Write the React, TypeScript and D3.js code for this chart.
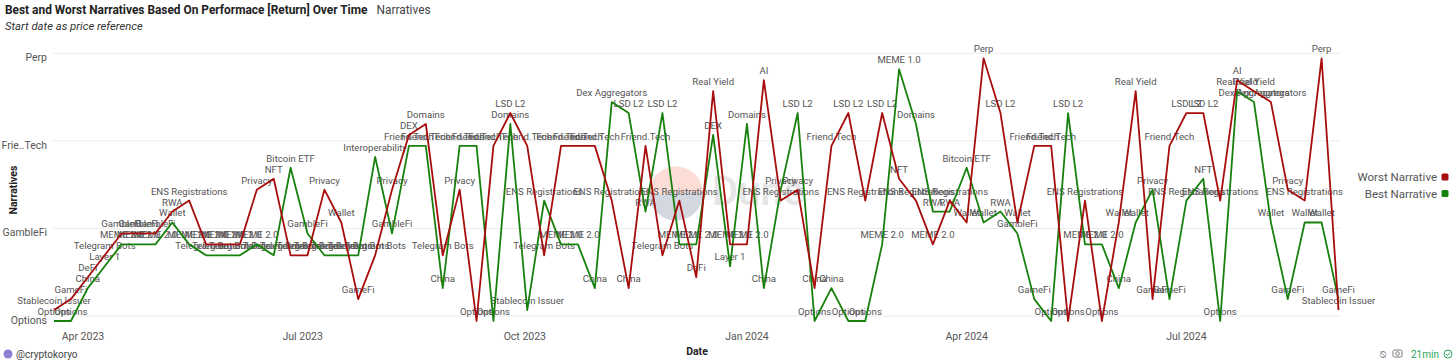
import React, { useEffect } from "react";
import * as d3 from "d3";

// y categories, bottom to top
const categories = [
  "Options", "Stablecoin Issuer", "GameFi", "China", "DeFi", "Layer 1", "Telegram Bots",
  "MEME 2.0", "GambleFi", "Wallet", "RWA", "ENS Registrations", "Privacy", "NFT",
  "Bitcoin ETF", "Interoperability", "Friend.Tech", "DEX", "Domains", "LSD L2",
  "Dex Aggregators", "Real Yield", "AI", "MEME 1.0", "Perp",
];
const yTickValues = ["Options", "GambleFi", "Friend.Tech", "Perp"];

const firstWeek = new Date(2023, 2, 20);
const lastWeek = new Date(2024, 8, 2);

const worstNarrative = [
  "Stablecoin Issuer", "GameFi", "DeFi", "Telegram Bots", "GambleFi", "GambleFi", "GambleFi", "RWA",
  "ENS Registrations", "MEME 2.0", "MEME 2.0", "MEME 2.0", "Privacy", "NFT", "Telegram Bots", "Telegram Bots",
  "Privacy", "Wallet", "GameFi", "Telegram Bots", "Privacy", "DEX", "Domains", "Telegram Bots",
  "Privacy", "Options", "Friend.Tech", "LSD L2", "Friend.Tech", "Telegram Bots", "Friend.Tech", "Friend.Tech",
  "Friend.Tech", "ENS Registrations", "China", "Friend.Tech", "Telegram Bots", "ENS Registrations", "DeFi", "Real Yield",
  "MEME 2.0", "MEME 2.0", "AI", "ENS Registrations", "Privacy", "China", "Friend.Tech", "LSD L2",
  "ENS Registrations", "LSD L2", "NFT", "ENS Registrations", "MEME 2.0", "ENS Registrations", "Wallet", "Perp",
  "LSD L2", "Wallet", "Friend.Tech", "Friend.Tech", "Options", "ENS Registrations", "Options", "Wallet",
  "Real Yield", "GameFi", "Friend.Tech", "LSD L2", "LSD L2", "ENS Registrations", "AI", "Real Yield",
  "Dex Aggregators", "Privacy", "ENS Registrations", "Perp", "Stablecoin Issuer",
];

const bestNarrative = [
  "Options", "Options", "China", "Layer 1", "MEME 2.0", "MEME 2.0", "MEME 2.0", "Wallet",
  "MEME 2.0", "Telegram Bots", "Telegram Bots", "Telegram Bots", "MEME 2.0", "Telegram Bots", "Bitcoin ETF", "GambleFi",
  "Telegram Bots", "Telegram Bots", "Telegram Bots", "Interoperability", "GambleFi", "Friend.Tech", "Friend.Tech", "China",
  "Friend.Tech", "Friend.Tech", "Options", "Domains", "Stablecoin Issuer", "ENS Registrations", "MEME 2.0", "MEME 2.0",
  "China", "Dex Aggregators", "LSD L2", "RWA", "LSD L2", "MEME 2.0", "MEME 2.0", "DEX",
  "Layer 1", "Domains", "China", "Privacy", "LSD L2", "Options", "China", "Options",
  "Options", "MEME 2.0", "MEME 1.0", "Domains", "RWA", "RWA", "Bitcoin ETF", "Wallet",
  "RWA", "GambleFi", "GameFi", "Options", "LSD L2", "MEME 2.0", "MEME 2.0", "China",
  "Wallet", "Privacy", "GameFi", "ENS Registrations", "NFT", "Options", "Real Yield", "Dex Aggregators",
  "Wallet", "GameFi", "Wallet", "Wallet", "GameFi",
];

const RED = "#a80d0d";
const GREEN = "#18800c";
const FONT = "Roboto, 'Noto Sans', sans-serif";

const truncate = (s: string) => (s.length > 10 ? s.slice(0, 4) + ".." + s.slice(-4) : s);

export default function App() {
  useEffect(() => {
    document.body.style.margin = "0";
  }, []);

  const width = 1456;
  const height = 364;

  const weeks = d3.timeMonday.range(firstWeek, d3.timeDay.offset(lastWeek, 1));
  const x = d3.scaleTime().domain([firstWeek, lastWeek]).range([54, 1338.5]);
  const y = d3.scalePoint<string>().domain(categories).range([321, 58.3]);

  const xTicks = d3.timeMonth.every(3)!.range(new Date(2023, 3, 1), new Date(2024, 7, 1));
  const fmt = d3.timeFormat("%b %Y");

  const series = [
    { name: "Best Narrative", color: GREEN, values: bestNarrative },
    { name: "Worst Narrative", color: RED, values: worstNarrative },
  ];

  const line = d3
    .line<string>()
    .x((_, i) => x(weeks[i]))
    .y((d) => y(d)!);

  return (
    <svg width={width} height={height} style={{ display: "block", background: "#fff", fontFamily: FONT }}>
      {/* title */}
      <text x={5} y={14} fontSize={11.9} fontWeight={700} fill="#222">
        Best and Worst Narratives Based On Performace [Return] Over Time
        <tspan dx={9} fontWeight={400} fill="#444">Narratives</tspan>
      </text>
      <text x={5} y={30} fontSize={11.3} fontStyle="italic" fill="#333">
        Start date as price reference
      </text>

      {/* grid + y ticks */}
      {yTickValues.map((c) => (
        <g key={c}>
          <line x1={53} x2={1340} y1={y(c)! - 5} y2={y(c)! - 5} stroke="#ececec" />
          <text x={47} y={y(c)! + 3} textAnchor="end" fontSize={10.5} fill="#555">
            {truncate(c)}
          </text>
        </g>
      ))}

      {/* x ticks */}
      {xTicks.map((d) => (
        <text key={+d} x={x(d)} y={340} textAnchor="middle" fontSize={10.5} fill="#555">
          {fmt(d)}
        </text>
      ))}

      {/* watermark */}
      <g opacity={0.2}>
        <path d="M649,195 A27,27 0 0 1 703,192 Z" fill="#f4603e" />
        <path d="M649,195 L703,192 A27,27 0 0 1 649,195 Z" fill="#2b3b6b" />
        <text x={712} y={205} fontSize={40} fontWeight={600} fill="#888">Dune</text>
      </g>

      {/* point labels */}
      {series.map((s) =>
        s.values.map((v, i) => (
          <text
            key={s.name + i}
            x={x(weeks[i])}
            y={y(v)! - 6}
            textAnchor="middle"
            fontSize={9.6}
            fill="#555"
          >
            {v}
          </text>
        ))
      )}

      {/* lines */}
      {series.map((s) => (
        <path key={s.name} d={line(s.values) ?? ""} fill="none" stroke={s.color} strokeWidth={1.8} strokeLinejoin="round" />
      ))}

      {/* axis titles */}
      <text transform="translate(17,190) rotate(-90)" textAnchor="middle" fontSize={10.5} fontWeight={700} fill="#222">
        Narratives
      </text>
      <text x={697} y={355} textAnchor="middle" fontSize={10.5} fontWeight={700} fill="#222">
        Date
      </text>

      {/* legend */}
      {[
        { name: "Worst Narrative", color: RED },
        { name: "Best Narrative", color: GREEN },
      ].map((l, i) => (
        <g key={l.name} transform={`translate(0,${177 + i * 16.5})`}>
          <text x={1437} y={4} textAnchor="end" fontSize={11.5} fill="#555">
            {l.name}
          </text>
          <rect x={1441.5} y={-3.5} width={7} height={7} rx={1.5} fill={l.color} />
        </g>
      ))}

      {/* footer */}
      <circle cx={8} cy={354} r={4.5} fill="#8b7fd6" />
      <text x={16} y={357.5} fontSize={10} fill="#444">@cryptokoryo</text>
      <text x={1380} y={357.5} fontSize={10} fill="#777">⍉</text>
      <rect x={1393} y={350} width={9} height={7} rx={1.5} fill="none" stroke="#777" />
      <circle cx={1397.5} cy={353.5} r={1.8} fill="none" stroke="#777" />
      <text x={1411} y={357.5} fontSize={10} fill="#2aa35a">21min</text>
      <circle cx={1448} cy={354} r={4} fill="none" stroke="#2aa35a" />
      <path d="M1446,354 l1.5,1.5 l2.5,-3" fill="none" stroke="#2aa35a" />
    </svg>
  );
}
